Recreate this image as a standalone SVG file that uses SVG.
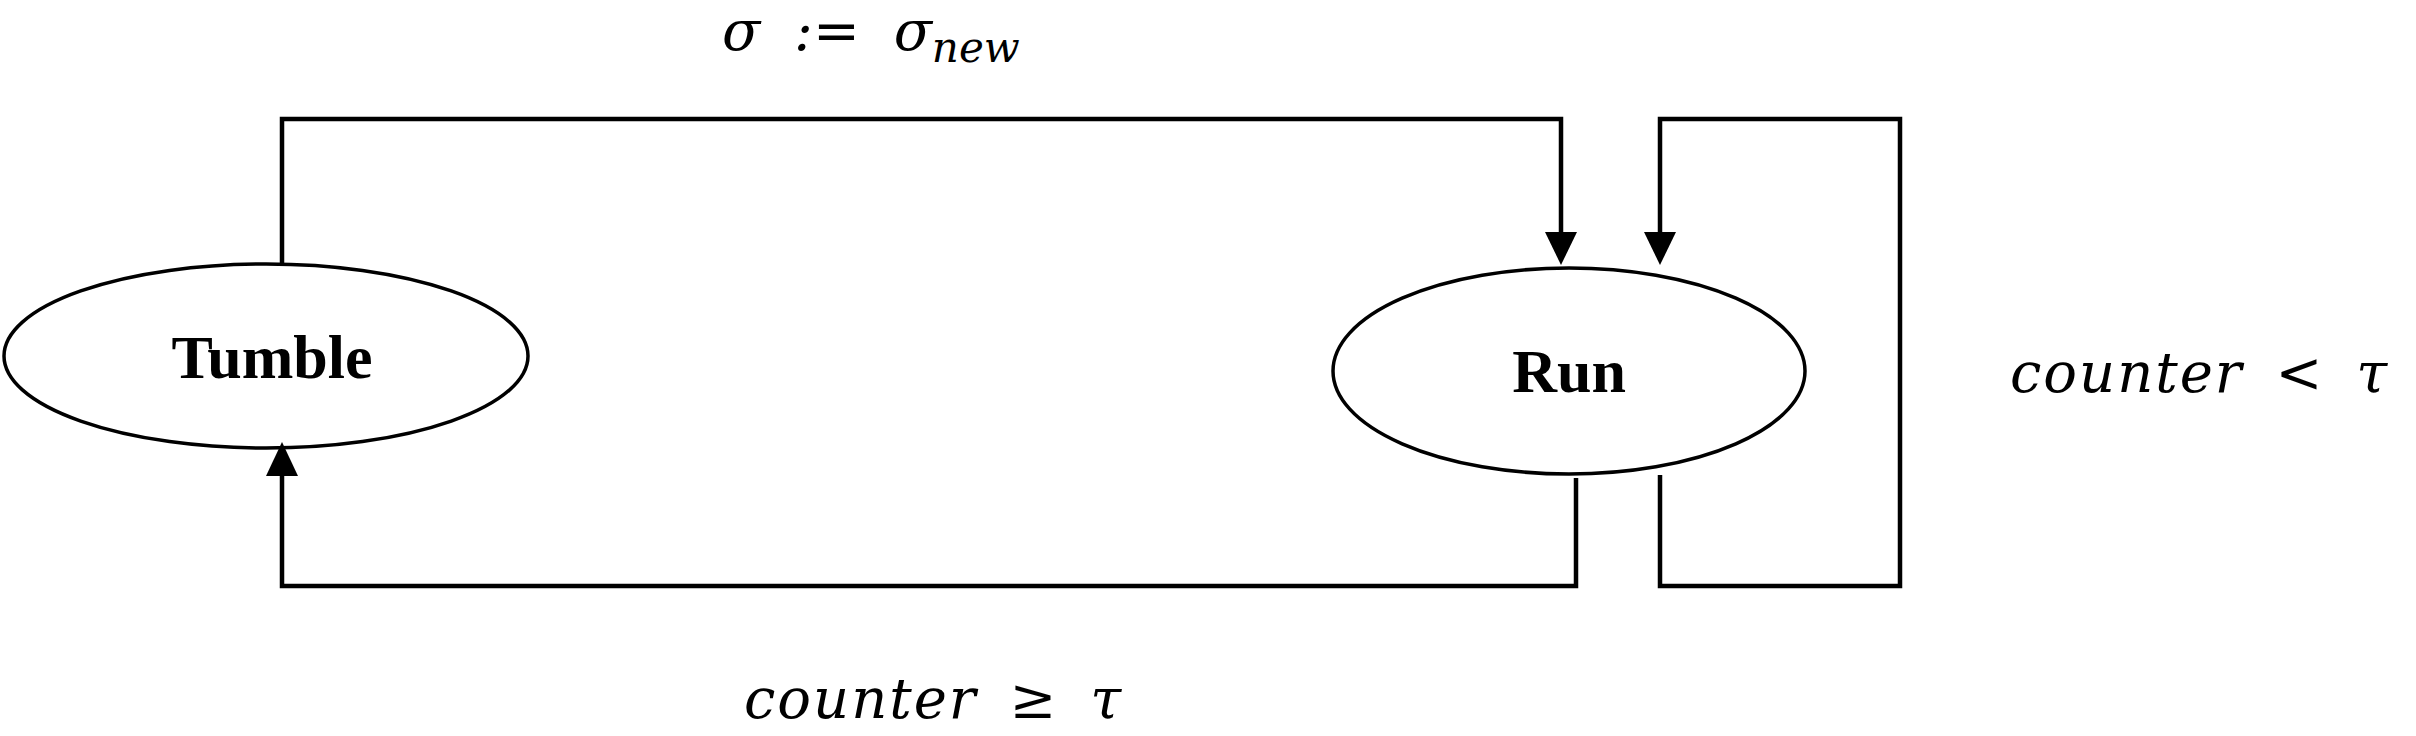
<svg xmlns="http://www.w3.org/2000/svg" width="2416" height="736" viewBox="0 0 2416 736">
<defs>
<style>
.n{fill:#fff;stroke:#000;stroke-width:3.5}
.c{fill:none;stroke:#000;stroke-width:4.5}
.l{font-family:"Liberation Serif",serif;font-weight:bold;font-size:62px;text-anchor:middle}
.m{font-family:"DejaVu Serif","Liberation Serif",serif;font-style:italic;font-size:56px}
</style>
</defs>
<rect width="2416" height="736" fill="#fff"/>
<g id="tumble"><ellipse class="n" cx="266" cy="356" rx="262" ry="92"/><text class="l" x="272" y="378">Tumble</text></g>
<g id="run"><ellipse class="n" cx="1569" cy="371" rx="236" ry="103"/><text class="l" x="1569" y="392">Run</text></g>
<g id="connectors">
<path class="c" d="M282,264 V119 H1561 V238"/><path d="M1545,232 L1561,265 L1577,232 z"/>
<path class="c" d="M1660,238 V119 H1900 V586 H1660 V475"/><path d="M1644,232 L1660,265 L1676,232 z"/>
<path class="c" d="M1576,478 V586 H282 V470"/><path d="M266,476 L282,442 L298,476 z"/>
</g>
<text class="m" x="722" y="50" word-spacing="16">σ := <tspan>σ</tspan><tspan font-size="42" dy="12">new</tspan></text>
<text class="m" x="2010" y="392" letter-spacing="2" word-spacing="12">counter &lt; τ</text>
<text class="m" x="744" y="718" letter-spacing="2" word-spacing="12">counter ≥ τ</text>
</svg>
